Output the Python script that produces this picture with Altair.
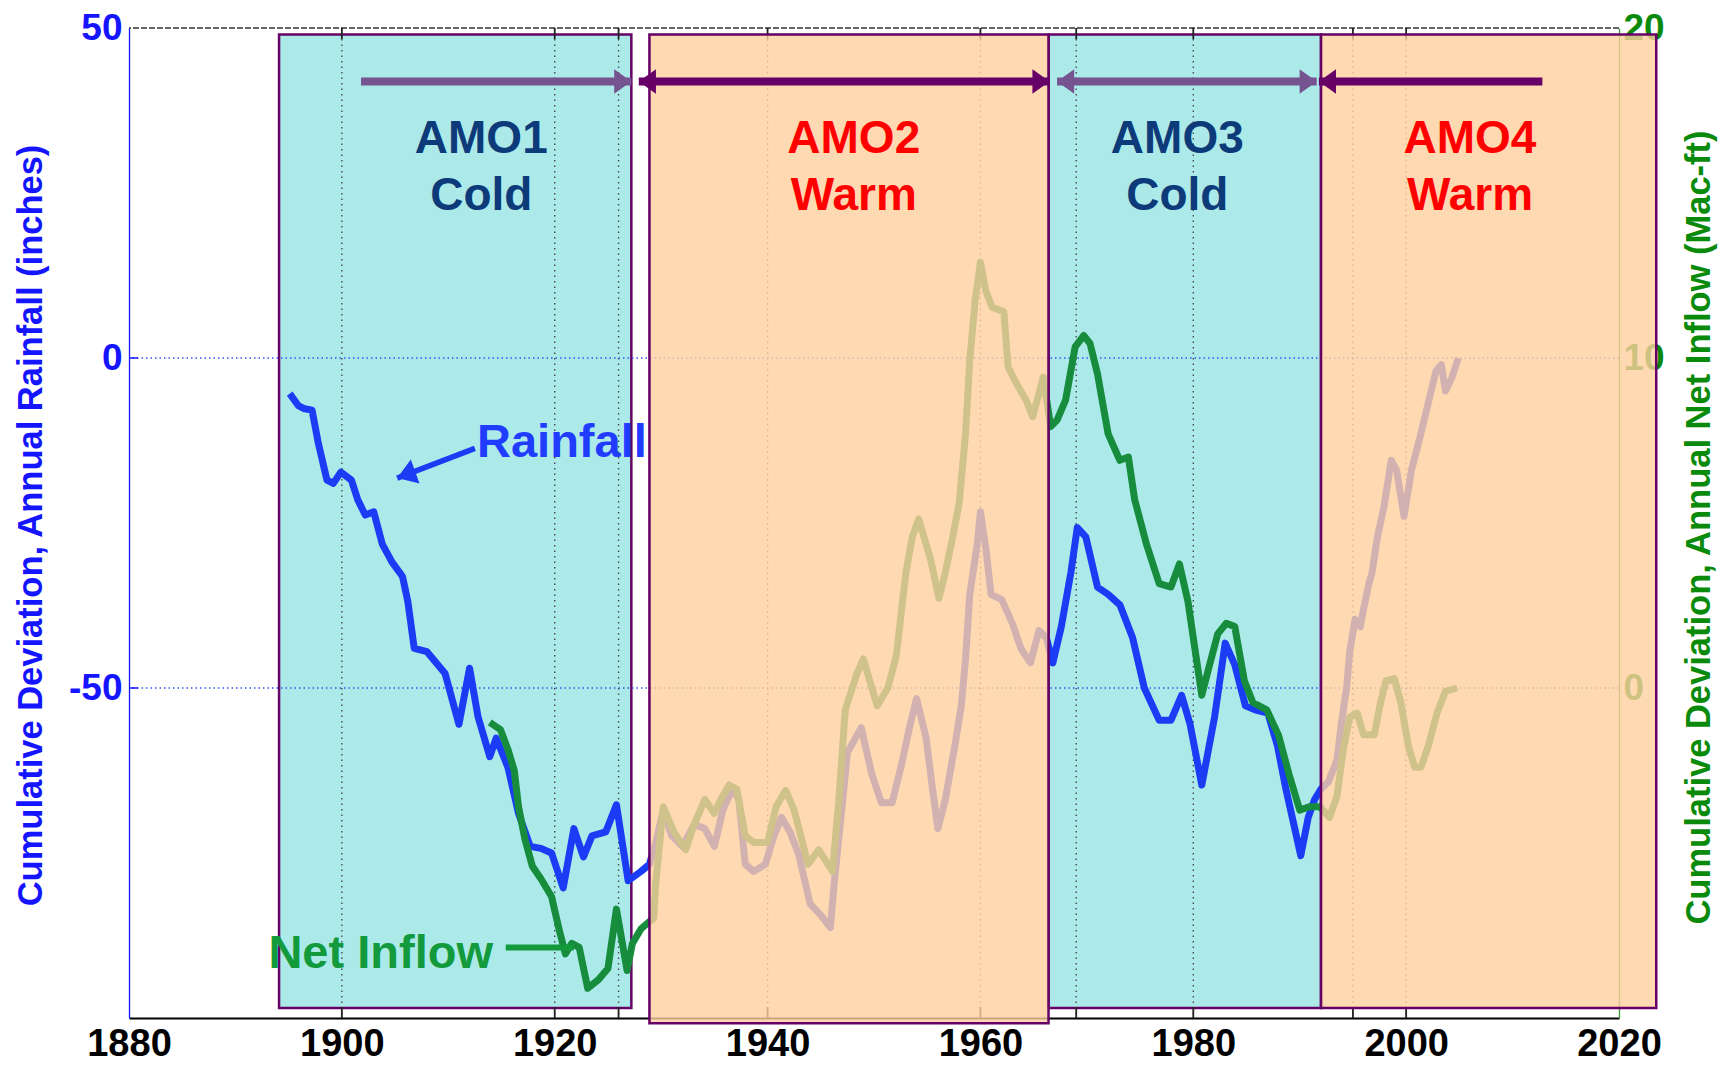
import altair as alt
import pandas as pd

# ---------------- data ----------------
RAIN_YEARS = [1895.1, 1895.9, 1896.5, 1897.2, 1897.8, 1898.6, 1899.2, 1899.9, 1900.9, 1901.5,
              1902.2, 1903.0, 1903.8, 1904.7, 1905.7, 1906.2, 1906.8, 1908.0, 1909.7, 1911.0,
              1912.0, 1912.8, 1913.9, 1914.5, 1915.6, 1916.6, 1917.7, 1918.7, 1919.7, 1920.8,
              1921.8, 1922.7, 1923.5, 1924.8, 1925.8, 1926.9, 1928.1, 1928.9, 1929.5, 1930.2,
              1931.0, 1932.0, 1933.1, 1934.1, 1935.0, 1935.8, 1936.7, 1937.3, 1937.9, 1938.7,
              1939.8, 1940.6, 1941.3, 1942.1, 1942.9, 1944.0, 1945.0, 1945.9, 1946.3, 1946.9,
              1947.5, 1948.8, 1949.8, 1950.7, 1951.7, 1952.6, 1953.4, 1954.0, 1954.9, 1955.5,
              1956.0, 1956.7, 1957.6, 1958.2, 1958.6, 1959.0, 1959.7, 1960.0, 1960.5, 1961.0,
              1962.0, 1963.0, 1963.8, 1964.7, 1965.5, 1966.2, 1966.8, 1967.6, 1968.5, 1969.1,
              1969.9, 1971.0, 1972.0, 1973.1, 1974.3, 1975.4, 1976.8, 1977.9, 1978.9, 1979.7,
              1980.8, 1982.0, 1983.0, 1983.9, 1984.9, 1985.8, 1987.0, 1987.9, 1988.7, 1989.3,
              1990.1, 1990.8, 1991.4, 1992.0, 1992.7, 1993.5, 1993.9, 1994.4, 1994.7, 1995.2,
              1995.7, 1996.0, 1996.5, 1996.8, 1997.3, 1997.9, 1998.6, 1999.1, 1999.8, 2000.5,
              2001.3, 2002.2, 2002.8, 2003.3, 2003.7, 2004.3, 2004.9]
RAIN_VALUES = [-5.4, -7.2, -7.7, -7.9, -13.0, -18.5, -19.0, -17.3, -18.5, -21.5,
               -23.8, -23.3, -28.2, -30.9, -33.1, -36.9, -44.0, -44.5, -47.8, -55.5,
               -47.0, -54.4, -60.4, -57.6, -62.0, -69.0, -74.0, -74.3, -75.0, -80.3,
               -71.3, -75.6, -72.4, -71.8, -67.7, -79.2, -77.8, -76.7, -73.4, -68.5,
               -72.4, -74.0, -70.7, -71.3, -74.0, -68.5, -65.3, -66.9, -76.7, -77.8,
               -76.7, -72.4, -69.6, -71.8, -75.1, -82.7, -84.4, -86.3, -78.9, -69.6,
               -59.8, -56.0, -63.1, -67.4, -67.4, -61.5, -55.5, -51.6, -57.6, -65.3,
               -71.3, -66.9, -58.7, -52.7, -45.6, -35.8, -28.2, -23.3, -28.7, -35.8,
               -36.6, -40.2, -44.0, -46.2, -41.3, -42.4, -46.2, -40.7, -32.5, -25.7,
               -27.1, -34.7, -35.8, -37.4, -42.4, -50.0, -54.9, -54.9, -51.1, -55.5,
               -64.7, -54.4, -43.2, -46.5, -52.7, -53.3, -53.8, -58.7, -65.3, -69.6,
               -75.4, -69.6, -66.9, -65.3, -64.2, -60.9, -55.5, -50.0, -44.5, -39.6,
               -40.7, -38.0, -34.2, -32.5, -27.1, -22.7, -15.5, -17.0, -24.0, -17.0,
               -12.0, -6.0, -2.0, -1.0, -5.0, -3.0, 0.0]

INFLOW_YEARS = [1913.9, 1914.9, 1915.6, 1916.2, 1916.6, 1917.2, 1917.9, 1918.7, 1919.7, 1920.4,
                1921.0, 1921.6, 1922.3, 1923.1, 1924.1, 1925.0, 1925.8, 1926.8, 1927.3, 1928.1,
                1928.9, 1929.3, 1929.5, 1930.2, 1931.2, 1932.3, 1933.1, 1934.1, 1935.0, 1935.6,
                1936.4, 1937.1, 1937.9, 1938.7, 1940.0, 1940.8, 1941.7, 1942.5, 1943.8, 1944.8,
                1946.1, 1946.7, 1947.3, 1948.4, 1949.0, 1949.6, 1950.3, 1951.3, 1952.1, 1952.6,
                1953.0, 1953.6, 1954.2, 1955.3, 1956.1, 1956.7, 1957.4, 1958.0, 1958.6, 1959.0,
                1959.5, 1960.0, 1960.5, 1961.1, 1962.2, 1962.6, 1963.4, 1964.3, 1964.9, 1965.5,
                1965.9, 1966.6, 1967.2, 1968.0, 1968.9, 1969.7, 1970.3, 1971.0, 1972.0, 1973.1,
                1973.9, 1974.5, 1975.6, 1976.8, 1977.9, 1978.7, 1979.5, 1980.1, 1980.8, 1981.4,
                1982.3, 1983.1, 1983.9, 1984.8, 1985.6, 1986.9, 1988.0, 1989.0, 1990.0, 1990.9,
                1991.9, 1992.8, 1993.5, 1994.1, 1994.7, 1995.4, 1996.0, 1997.0, 1997.6, 1998.1,
                1998.9, 1999.5, 2000.2, 2000.8, 2001.4, 2002.1, 2002.9, 2003.7, 2004.8]
INFLOW_VALUES = [-1.04, -1.26, -1.86, -2.50, -3.60, -4.58, -5.40, -5.78, -6.32, -7.30,
                 -8.06, -7.74, -7.86, -9.10, -8.84, -8.50, -6.70, -8.56, -7.74, -7.30,
                 -7.08, -6.98, -5.88, -3.60, -4.36, -4.90, -4.14, -3.38, -3.80, -3.38,
                 -2.94, -3.06, -4.48, -4.68, -4.68, -3.60, -3.10, -3.70, -5.34, -4.90,
                 -5.56, -3.38, -0.66, 0.44, 0.88, 0.22, -0.54, 0.00, 0.98, 2.40,
                 3.50, 4.58, 5.12, 3.92, 2.72, 3.50, 4.58, 5.60, 7.70, 9.93,
                 11.74, 12.90, 12.04, 11.54, 11.40, 9.72, 9.22, 8.72, 8.22, 8.92,
                 9.42, 7.92, 8.12, 8.72, 10.34, 10.68, 10.44, 9.52, 7.70, 6.90,
                 7.00, 5.70, 4.36, 3.16, 3.06, 3.76, 2.62, 1.30, -0.22, 0.54,
                 1.64, 1.96, 1.86, 0.22, -0.44, -0.66, -1.42, -2.62, -3.70, -3.60,
                 -3.60, -3.92, -3.28, -1.86, -0.88, -0.76, -1.42, -1.42, -0.44, 0.22,
                 0.28, -0.44, -1.74, -2.40, -2.40, -1.74, -0.76, -0.10, 0.00]

PHASE_NAMES = ["AMO1", "AMO2", "AMO3", "AMO4"]
PHASE_KINDS = ["Cold", "Warm", "Cold", "Warm"]
PHASE_START = [1894.1, 1928.9, 1966.4, 1992.0]
PHASE_END = [1927.2, 1966.4, 1992.0, 2023.5]
PHASE_LOW = [-98.5, -100.8, -98.5, -98.5]
PHASE_HIGH = [49.0, 49.0, 49.0, 49.0]
PHASE_LABEL_YEAR = [1913.1, 1948.1, 1978.5, 2006.0]

X_TICKS = [1880, 1900, 1920, 1940, 1960, 1980, 2000, 2020]
GRID_YEARS = [1900, 1920, 1926, 1940, 1960, 1969, 1980, 1995, 2000]
LEFT_TICKS = [50, 0, -50]
RIGHT_TICKS = [20, 10, 0]
H_GRID = [0, -50]

# phase arrows (years, at the arrow height in inches)
ARROW_Y = 41.9
ARROW_FROM = [1901.8, 1927.9, 1967.2, 1991.8]
ARROW_TO = [1927.2, 1966.5, 1991.6, 2012.8]
ARROW_LEFT_HEAD = [False, True, True, True]
ARROW_RIGHT_HEAD = [True, True, True, False]

# ---------------- style ----------------
W, H = 1490, 990
FONT = "Liberation Sans"
BLUE = "#1a3cf5"
AXIS_BLUE = "#1414ff"
GREEN = "#168c3c"
AXIS_GREEN = "#0a8a0a"
CYAN = "#aceaea"
ORANGE = "#ffcf9f"
PURPLE = "#660066"
PURPLE_HATCH = "#76548f"
COLD = "#0d3b7a"
WARM = "#ff0000"

xs = alt.Scale(domain=[1880, 2020], nice=False, zero=False)
yl = alt.Scale(domain=[-100, 50], nice=False, zero=False)
yr = alt.Scale(domain=[-10, 20], nice=False, zero=False)

PLAIN_LABEL = "'' + datum.value"

X_AXIS = alt.Axis(values=X_TICKS, title=None, grid=False, ticks=False,
                  labelExpr=PLAIN_LABEL,
                  labelFont=FONT, labelFontSize=38, labelFontWeight="bold",
                  labelColor="black", labelPadding=7, labelFlush=False,
                  labelOverlap=False, domainColor="black", domainWidth=2)


def xenc(field):
    return alt.X(field, type="quantitative", scale=xs, axis=X_AXIS)


def ylin(field):
    return alt.Y(field, type="quantitative", scale=yl, axis=None)


phase_df = pd.DataFrame({
    "name": PHASE_NAMES, "kind": PHASE_KINDS, "start": PHASE_START, "end": PHASE_END,
    "low": PHASE_LOW, "high": PHASE_HIGH, "lx": PHASE_LABEL_YEAR,
})
rain_df = pd.DataFrame({"year": RAIN_YEARS, "rain": RAIN_VALUES})
inflow_df = pd.DataFrame({"year": INFLOW_YEARS, "inflow": INFLOW_VALUES})
grid_df = pd.DataFrame({"year": GRID_YEARS})
hgrid_df = pd.DataFrame({"v": H_GRID})
one = pd.DataFrame({"a": [0]})

cyan = alt.Chart(phase_df).transform_filter(alt.datum.kind == "Cold").mark_rect(
    fill=CYAN, stroke=PURPLE, strokeWidth=2.5
).encode(x=xenc("start"), x2="end", y=ylin("low"), y2="high")

vgrid = alt.Chart(grid_df).mark_rule(
    color="#4a4a4a", strokeDash=[1.5, 4], strokeWidth=1.4
).encode(x=xenc("year"))

hgrid = alt.Chart(hgrid_df).mark_rule(
    color="#3355ee", strokeDash=[1.5, 3], strokeWidth=1.3
).encode(y=ylin("v"))

top_border = alt.Chart(one).mark_rule(
    color="#333333", strokeDash=[6, 2], strokeWidth=1.6
).encode(y=alt.value(0))

bottom_ticks = alt.Chart(grid_df).mark_rule(color="#222222", strokeWidth=1.8).encode(
    x=xenc("year"), y=alt.value(H), y2=alt.value(H - 11))
top_ticks = alt.Chart(grid_df).mark_rule(color="#222222", strokeWidth=1.8).encode(
    x=xenc("year"), y=alt.value(0), y2=alt.value(11))
left_ticks = alt.Chart(hgrid_df).mark_rule(color=AXIS_BLUE, strokeWidth=1.5).encode(
    y=ylin("v"), x=alt.value(0), x2=alt.value(9))

rain = alt.Chart(rain_df).mark_line(
    color=BLUE, strokeWidth=7, strokeJoin="round"
).encode(
    x=xenc("year"),
    y=alt.Y("rain:Q", scale=yl, axis=alt.Axis(
        orient="left", values=LEFT_TICKS, grid=False, ticks=False, labelExpr=PLAIN_LABEL,
        labelFont=FONT, labelFontSize=37, labelFontWeight="bold", labelColor=AXIS_BLUE,
        labelPadding=7, labelFlush=False, domainColor=AXIS_BLUE, domainWidth=1.3,
        title="Cumulative Deviation, Annual Rainfall (inches)", titleFont=FONT,
        titleFontSize=34.5, titleFontWeight="bold", titleColor=AXIS_BLUE,
        titleAngle=270, titleX=-98, titleY=497, titleAlign="center",
        titleBaseline="middle")),
    order="year:Q",
)

inflow = alt.Chart(inflow_df).mark_line(
    color=GREEN, strokeWidth=7, strokeJoin="round"
).encode(
    x=xenc("year"),
    y=alt.Y("inflow:Q", scale=yr, axis=alt.Axis(
        orient="right", values=RIGHT_TICKS, grid=False, ticks=False, labelExpr=PLAIN_LABEL,
        labelFont=FONT, labelFontSize=37, labelFontWeight="bold", labelColor=AXIS_GREEN,
        labelPadding=4, labelFlush=False, domainColor="#3a9a3a", domainWidth=1.3,
        title="Cumulative Deviation, Annual Net Inflow (Mac-ft)", titleFont=FONT,
        titleFontSize=34.5, titleFontWeight="bold", titleColor=AXIS_GREEN,
        titleAngle=270, titleX=80, titleY=499, titleAlign="center",
        titleBaseline="middle")),
    order="year:Q",
)

orange = alt.Chart(phase_df).transform_filter(alt.datum.kind == "Warm").mark_rect(
    fill=ORANGE, fillOpacity=0.8, stroke=PURPLE, strokeWidth=2.5
).encode(x=xenc("start"), x2="end", y=ylin("low"), y2="high")

arrow_df = pd.DataFrame({
    "x1": ARROW_FROM, "x2": ARROW_TO, "y": [ARROW_Y] * 4,
    "lh": ARROW_LEFT_HEAD, "rh": ARROW_RIGHT_HEAD,
    "col": [PURPLE_HATCH, PURPLE, PURPLE_HATCH, PURPLE],
})
shafts = alt.Chart(arrow_df).mark_rule(strokeWidth=8).encode(
    x=xenc("x1"), x2="x2", y=ylin("y"), color=alt.Color("col:N", scale=None))
right_heads = alt.Chart(arrow_df).transform_filter(alt.datum.rh).mark_point(
    shape="M-1.4,-1L0,0L-1.4,1Z", size=600, filled=True, opacity=1
).encode(x=xenc("x2"), y=ylin("y"), color=alt.Color("col:N", scale=None))
left_heads = alt.Chart(arrow_df).transform_filter(alt.datum.lh).mark_point(
    shape="M1.4,-1L0,0L1.4,1Z", size=600, filled=True, opacity=1
).encode(x=xenc("x1"), y=ylin("y"), color=alt.Color("col:N", scale=None))

# pointer arrows of the series labels
rain_ptr = pd.DataFrame({"x1": [1912.5], "y1": [-13.7], "x2": [1905.2], "y2": [-18.2]})
rain_shaft = alt.Chart(rain_ptr).mark_rule(color=BLUE, strokeWidth=5.5).encode(
    x=xenc("x1"), x2="x2", y=ylin("y1"), y2="y2")
rain_head = alt.Chart(rain_ptr).mark_point(
    shape="M-1.5,-1L0,0L-1.5,1Z", size=650, filled=True, opacity=1, color=BLUE, angle=160
).encode(x=xenc("x2"), y=ylin("y2"))

inflow_ptr = pd.DataFrame({"x1": [1915.4], "x2": [1921.8], "y": [-89.3]})
inflow_shaft = alt.Chart(inflow_ptr).mark_rule(color="#129a3c", strokeWidth=6).encode(
    x=xenc("x1"), x2="x2", y=ylin("y"))

# text labels
name_text = alt.Chart(phase_df).transform_calculate(
    col=f"datum.kind == 'Cold' ? '{COLD}' : '{WARM}'", yy="33.2"
).mark_text(font=FONT, fontSize=46, fontWeight="bold", align="center", baseline="middle").encode(
    x=xenc("lx"), y=ylin("yy:Q"), text="name:N", color=alt.Color("col:N", scale=None))
kind_text = alt.Chart(phase_df).transform_calculate(
    col=f"datum.kind == 'Cold' ? '{COLD}' : '{WARM}'", yy="24.5"
).mark_text(font=FONT, fontSize=46, fontWeight="bold", align="center", baseline="middle").encode(
    x=xenc("lx"), y=ylin("yy:Q"), text="kind:N", color=alt.Color("col:N", scale=None))

series_labels = pd.DataFrame({
    "label": ["Rainfall", "Net Inflow"], "x": [1912.7, 1893.1], "y": [-12.9, -90.3],
    "col": ["#1f3cff", "#129a3c"],
})
series_text = alt.Chart(series_labels).mark_text(
    font=FONT, fontSize=47, fontWeight="bold", align="left", baseline="middle"
).encode(x=xenc("x"), y=ylin("y"), text="label:N", color=alt.Color("col:N", scale=None))

chart = alt.layer(
    cyan, vgrid, hgrid, top_border, bottom_ticks, top_ticks, left_ticks,
    rain, inflow, orange,
    shafts, right_heads, left_heads, rain_shaft, rain_head, inflow_shaft,
    name_text, kind_text, series_text,
).resolve_scale(y="independent").resolve_axis(y="independent").properties(
    width=W, height=H,
    autosize=alt.AutoSizeParams(type="none"),
    padding={"left": 129, "top": 28, "right": 114, "bottom": 50},
    background="white",
).configure_view(stroke=None)

chart.save("out.html", embed_options={"renderer": "svg", "actions": False})
